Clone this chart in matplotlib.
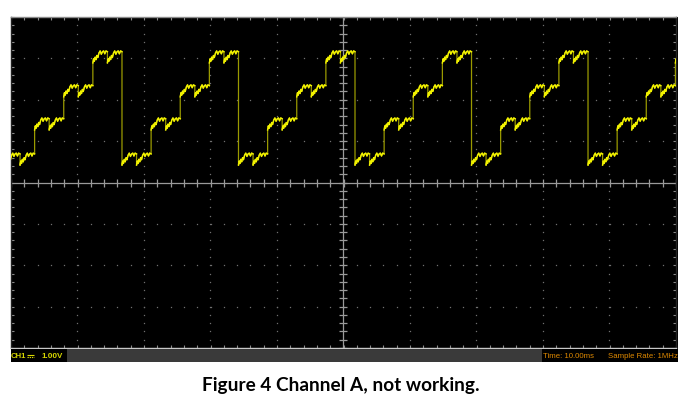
import numpy as np
import matplotlib
matplotlib.use("Agg")
import matplotlib.pyplot as plt
from matplotlib.patches import Rectangle

W, H = 683, 404

# scope screen: 10 x 8 divisions
x_lim = (-5, 5)
y_lim = (-4, 4)

# one period of the trace = 8 sub-steps, base level of each (div)
step_base = [0.42, 0.42, 1.27, 1.27, 2.07, 2.07, 2.89, 2.89]
# wiggle inside one sub-step: fraction of its width -> rise above base (div)
wig_frac = [0.0, 0.05, 0.10, 0.16, 0.22, 0.28, 0.34, 0.42, 0.50, 0.58, 0.66, 0.74, 0.82, 0.90, 1.0]
wig_rise = [0.0, 0.10, 0.04, 0.14, 0.08, 0.18, 0.13, 0.24, 0.29, 0.21, 0.27, 0.29, 0.22, 0.29, 0.27]
period = 1.752        # div
first_start = -5.083  # div, start of the first period
n_periods = 7

ch_name = "CH1"
ch_scale = "1.00V"
time_label = "Time: 10.00ms"
rate_label = "Sample Rate: 1MHz"
caption = "Figure 4 Channel A, not working."


def px(x, y):
    return x / W, 1 - y / H


fig = plt.figure(figsize=(W / 100, H / 100), dpi=100)
fig.patch.set_facecolor("white")

# black screen behind everything
fig.add_artist(Rectangle(px(11, 362), 667 / W, 345 / H, transform=fig.transFigure,
                         facecolor="black", edgecolor="none", zorder=0))

l, b = px(11, 348)
ax = fig.add_axes([l, b, 665 / W, 331 / H])
ax.set_facecolor("black")
ax.set_xlim(*x_lim)
ax.set_ylim(*y_lim)

grid_c = "#707070"
minor = np.arange(x_lim[0], x_lim[1] + 0.01, 0.2)
minor_y = np.arange(y_lim[0], y_lim[1] + 0.01, 0.2)

# dotted graticule
for gx in range(-4, 5):
    if gx == 0:
        continue
    ax.plot(np.full(len(minor_y), gx), minor_y, ls="", marker="s", ms=0.9,
            color=grid_c, mew=0)
for gy in range(-3, 4):
    if gy == 0:
        continue
    ax.plot(minor, np.full(len(minor), gy), ls="", marker="s", ms=0.9,
            color=grid_c, mew=0)

# centre cross with ticks
cc = "#9a9a9a"
ax.axhline(0, color=cc, lw=0.9)
ax.axvline(0, color=cc, lw=0.9)
ax.plot(minor, np.zeros(len(minor)), ls="", marker="|", ms=6, mew=0.9, color=cc)
ax.plot(np.zeros(len(minor_y)), minor_y, ls="", marker="_", ms=6, mew=0.9, color=cc)

# border
ax.spines["top"].set_color("#8a8a8a")
ax.spines["bottom"].set_color("#c8c8c8")
ax.spines["left"].set_color("#222222")
ax.spines["right"].set_color("#222222")
for s in ax.spines.values():
    s.set_linewidth(1.0)
ax.set_xticks(minor)
ax.set_yticks(minor_y)
ax.tick_params(direction="in", length=2.5, width=0.8, color="#8a8a8a",
               top=True, right=True, labelbottom=False, labelleft=False)

# trace: full line in olive (shows on the vertical jumps), sub-steps in yellow on top
xs, ys = [], []
for p in range(n_periods):
    for k, base in enumerate(step_base):
        x0 = first_start + p * period + k * period / 8
        sx = [x0 + f * period / 8 for f in wig_frac]
        sy = [base + r for r in wig_rise]
        ax.plot(sx, sy, color="#f2f200", lw=1.05, zorder=6)
        xs += sx
        ys += sy
ax.plot(xs, ys, color="#9a9a00", lw=0.9, zorder=5)

# status bar
sb = fig.add_axes([11 / W, 1 - 362 / H, 667 / W, 13 / H])
sb.set_xlim(11, 678)
sb.set_ylim(0, 1)
sb.axis("off")
sb.add_patch(Rectangle((11, 0), 667, 1, facecolor="black", edgecolor="none"))
sb.add_patch(Rectangle((67, 0), 475, 1, facecolor="#3a3a3a", edgecolor="none"))
yc = "#d8d800"
sb.text(11, 0.45, ch_name, color=yc, fontsize=5.6, va="center",
        fontweight="bold", family="Liberation Sans")
# DC coupling sign (solid line over dashed line), no installed font has it
sb.plot([26.5, 34], [0.56, 0.56], color=yc, lw=0.8, solid_capstyle="butt")
sb.plot([26.5, 34], [0.36, 0.36], color=yc, lw=0.8, ls=(0, (1.2, 0.8)),
        dash_capstyle="butt")
sb.text(41, 0.45, ch_scale, color=yc, fontsize=5.8, va="center",
        fontweight="bold", family="Liberation Sans")
sb.text(543, 0.45, time_label, color="#e08a00", fontsize=5.6, va="center",
        family="Liberation Sans")
sb.text(608, 0.45, rate_label, color="#e08a00", fontsize=5.6, va="center",
        family="Liberation Sans")

# caption
fig.text(341 / W, 1 - 386 / H, caption, ha="center", va="center",
         fontsize=13.7, fontweight="bold", family="Lato", color="black")

fig.savefig("out.png", dpi=100, facecolor="white")
